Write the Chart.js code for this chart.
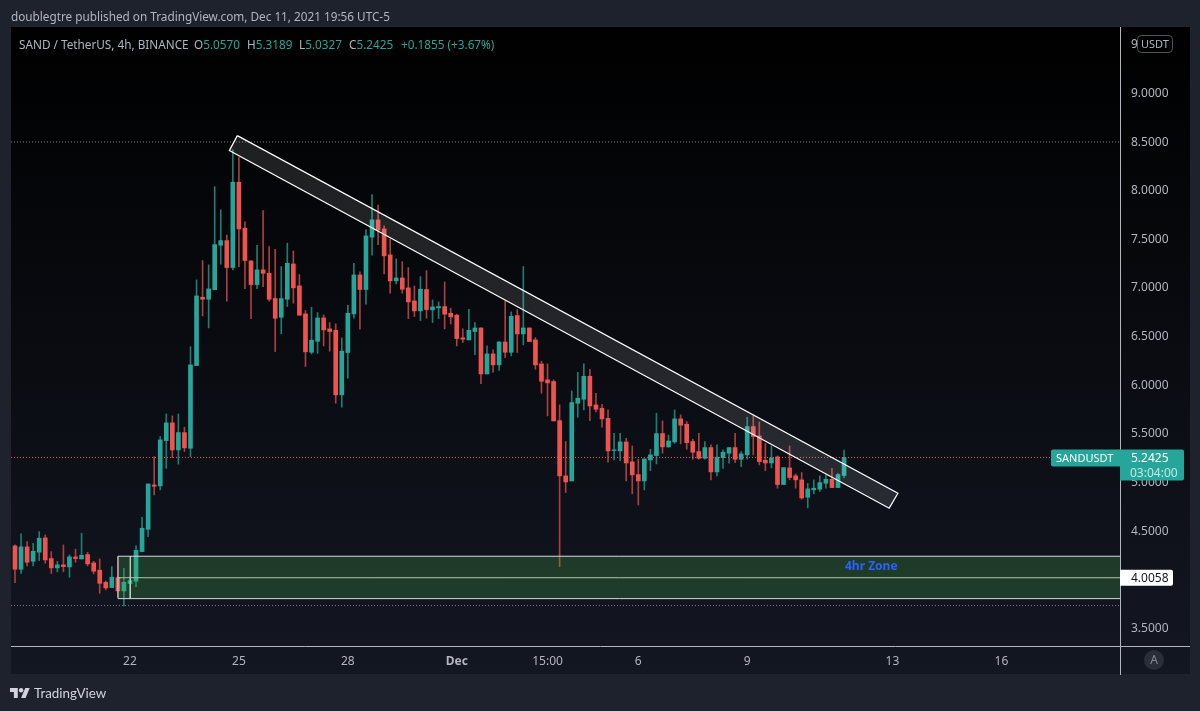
<!DOCTYPE html>
<html>
<head>
<meta charset="utf-8">
<title>SANDUSDT 4h</title>
<script src="https://cdn.jsdelivr.net/npm/chart.js@4/dist/chart.umd.min.js"></script>
<style>
  html, body { margin: 0; padding: 0; background: #1e222d; overflow: hidden; }
  #wrap { position: relative; width: 1200px; height: 711px; font-family: "Noto Sans", sans-serif; }
  #stockChart { position: absolute; left: 0; top: 0; }
  .txt { position: absolute; white-space: nowrap; font-size: 11.75px; line-height: 16px; color: #b2b5be; }
  .txt b { font-weight: normal; color: #26a69a; }
  #brand { position: absolute; left: 10px; top: 688px; }
  #brandName { position: absolute; left: 34px; top: 684px; font-family: "Lato", sans-serif; font-size: 13.4px; line-height: 18px; color: #d1d4dc; }
</style>
</head>
<body>
<div id="wrap">
  <canvas id="stockChart" width="1200" height="711"></canvas>
  <div class="txt" style="left:11px;top:8px;">doublegtre published on TradingView.com, Dec 11, 2021 19:56 UTC-5</div>
  <div class="txt" style="left:19px;top:36px;">SAND / TetherUS, 4h, BINANCE</div>
  <div class="txt" style="left:194px;top:36px;">O<b>5.0570</b></div>
  <div class="txt" style="left:247px;top:36px;">H<b>5.3189</b></div>
  <div class="txt" style="left:299px;top:36px;">L<b>5.0327</b></div>
  <div class="txt" style="left:349px;top:36px;">C<b>5.2425</b></div>
  <div class="txt" style="left:401px;top:36px;"><b>+0.1855 (+3.67%)</b></div>
  <svg id="brand" width="20" height="10" viewBox="0 4 36 18">
    <path fill="#d1d4dc" d="M14 22H7V11H0V4h14v18zM28 22h-8l7.5-18h8L28 22z"/>
    <circle fill="#d1d4dc" cx="20" cy="8" r="4"/>
  </svg>
  <div id="brandName">TradingView</div>
</div>
<script>
// 4h candles, oldest first
const opens = [
  4.333,4.093,4.323,4.175,4.268,4.415,4.203,4.107,4.138,4.117,
  4.220,4.199,4.244,4.158,4.083,3.959,3.905,4.007,3.870,3.946,
  3.970,4.275,4.504,4.960,4.950,5.416,5.598,5.320,5.498,5.337,
  6.187,6.890,6.869,6.968,7.424,7.472,7.195,8.072,7.599,7.263,
  7.020,7.171,7.136,6.876,6.684,6.869,7.232,7.006,6.718,6.324,
  6.437,6.677,6.564,6.550,5.886,6.321,6.718,7.119,6.969,7.507,
  7.685,7.592,7.325,7.058,7.088,6.986,6.852,6.749,6.969,6.760,
  6.780,6.794,6.725,6.705,6.472,6.451,6.537,6.574,6.101,6.307,
  6.194,6.430,6.324,6.701,6.513,6.574,6.451,6.204,6.040,6.023,
  5.621,5.053,5.001,5.800,5.841,6.077,5.783,5.748,5.645,5.313,
  5.310,5.402,5.197,5.066,5.001,5.217,5.262,5.488,5.351,5.402,
  5.639,5.584,5.406,5.303,5.234,5.344,5.094,5.241,5.286,5.344,
  5.224,5.269,5.560,5.464,5.214,5.186,5.248,4.964,5.135,5.053,
  5.012,4.833,4.909,4.916,4.977,5.018,4.933,5.0570
];
const highs = [
  4.343,4.456,4.378,4.360,4.480,4.446,4.275,4.175,4.343,4.240,
  4.299,4.463,4.268,4.175,4.199,3.973,4.120,4.223,4.103,4.018,
  4.333,4.628,4.970,5.251,5.457,5.690,5.670,5.690,5.553,6.382,
  7.068,7.267,7.222,8.027,7.788,7.530,8.404,8.329,7.664,7.263,
  7.424,7.781,7.411,7.383,7.205,7.445,7.366,7.123,6.753,6.787,
  6.732,6.708,6.629,6.616,6.472,6.807,7.239,7.150,7.582,7.945,
  7.836,7.623,7.486,7.284,7.256,7.195,7.006,7.102,7.164,6.862,
  6.842,7.047,6.777,6.715,6.564,6.766,6.629,6.574,6.389,6.348,
  6.430,6.852,6.739,6.760,7.205,6.574,6.475,6.232,6.204,6.040,
  5.783,5.406,5.926,6.118,6.204,6.149,5.903,5.789,5.731,5.491,
  5.491,5.440,5.361,5.224,5.227,5.327,5.697,5.618,5.471,5.731,
  5.680,5.611,5.430,5.491,5.406,5.371,5.371,5.320,5.344,5.491,
  5.303,5.656,5.670,5.608,5.388,5.361,5.258,5.138,5.361,5.073,
  5.087,4.977,5.012,5.053,5.063,5.131,5.080,5.3189
];
const lows = [
  3.956,4.049,4.127,4.127,4.182,4.155,4.049,4.066,4.066,4.011,
  4.165,4.199,4.127,4.045,3.846,3.881,3.905,3.805,3.716,3.795,
  3.915,4.275,4.429,4.857,4.909,5.131,5.241,5.173,5.303,5.251,
  6.187,6.698,6.574,6.968,7.229,6.849,7.171,7.205,6.979,6.670,
  6.979,6.999,6.849,6.331,6.513,6.794,6.828,6.705,6.177,6.307,
  6.314,6.389,6.335,5.800,5.759,6.057,6.674,6.561,6.818,7.322,
  7.431,7.130,6.931,7.027,6.931,6.670,6.691,6.650,6.674,6.629,
  6.670,6.564,6.616,6.389,6.424,6.451,6.300,6.002,6.101,6.119,
  6.136,6.269,6.287,6.321,6.400,6.434,6.149,5.903,5.670,5.618,
  4.120,4.881,5.001,5.656,5.731,5.621,5.711,5.553,5.193,5.217,
  5.210,5.001,4.868,4.754,4.909,5.107,5.176,5.286,5.347,5.388,
  5.382,5.327,5.224,5.224,5.224,5.012,5.053,5.131,5.183,5.190,
  5.149,5.224,5.269,5.166,5.107,5.135,4.926,4.964,5.012,4.926,
  4.813,4.724,4.868,4.892,4.926,4.933,4.933,5.0327
];
const closes = [
  4.093,4.323,4.165,4.278,4.412,4.189,4.107,4.138,4.120,4.220,
  4.203,4.237,4.148,4.073,3.949,3.901,4.011,3.870,3.959,3.977,
  4.288,4.515,4.970,4.946,5.423,5.598,5.320,5.498,5.341,6.194,
  6.903,6.869,6.975,7.431,7.472,7.195,8.072,7.592,7.267,7.020,
  7.171,7.136,6.869,6.674,6.876,7.239,6.986,6.705,6.328,6.448,
  6.677,6.554,6.537,5.886,6.335,6.725,7.119,6.969,7.520,7.685,
  7.582,7.315,7.058,7.088,6.972,6.842,6.749,6.972,6.763,6.790,
  6.794,6.715,6.688,6.465,6.458,6.550,6.574,6.101,6.307,6.194,
  6.430,6.324,6.694,6.513,6.574,6.434,6.194,6.026,6.009,5.618,
  5.053,4.991,5.807,5.851,6.077,5.772,5.738,5.639,5.310,5.320,
  5.402,5.186,5.063,5.001,5.227,5.269,5.488,5.351,5.412,5.639,
  5.574,5.395,5.296,5.234,5.344,5.094,5.245,5.296,5.344,5.224,
  5.279,5.560,5.457,5.200,5.186,5.238,4.964,5.138,5.036,5.012,
  4.826,4.919,4.926,4.984,5.018,4.933,5.066,5.2425
];

// axis ticks
const yTicks = [3.5, 4, 4.5, 5, 5.5, 6, 6.5, 7, 7.5, 8, 8.5, 9, 9.5];
const xTickBars = [19, 37, 55, 73, 88, 103, 121, 145, 163];
const xTickLabels = ['22', '25', '28', 'Dec', '15:00', '6', '9', '13', '16'];

// drawn levels and shapes, x in bar numbers, y in price
const lastPrice = 5.2425;
const zonePrice = 4.0058;
const topLevel = 8.486;
const bottomLevel = 3.72;
const xMin = -0.66, xMax = 182.6, yMin = 3.304, yMax = 9.668;
const channelBars = [36.74, 145.9, 144.46, 35.42, 36.74];
const channelPrices = [8.551, 4.875, 4.721, 8.397, 8.551];
const zoneLeft = 17.02, zoneRight = 184;
const zoneBars = [zoneLeft, zoneRight, zoneRight, zoneLeft, zoneLeft];
const zonePrices = [4.227, 4.227, 3.791, 3.791, 4.227];
const zoneInnerBars = [19.06, 19.06];
const zoneInnerPrices = [4.227, 3.791];
const zoneLabelBar = 141.5;
const zoneLabelPrice = 4.12;

const GREEN = '#26a69a', RED = '#ef5350';
const isUp = closes.map((c, i) => c >= opens[i]);
const FONT = '"Noto Sans", sans-serif';

function pts(xs, ys) {
  return xs.map((x, i) => ({ x: x, y: ys[i] }));
}
function level(price, color, dash, order) {
  return {
    type: 'line', data: pts([xMin, xMax], [price, price]), borderColor: color,
    borderWidth: 1, borderDash: dash, pointRadius: 0, order: order
  };
}

// background panel and axis lines go under everything
const panel = {
  id: 'panel',
  beforeDraw(chart) {
    const c = chart.ctx;
    const g = c.createLinearGradient(0, 27, 0, 674);
    g.addColorStop(0, '#000000');
    g.addColorStop(1, '#131722');
    c.save();
    c.fillStyle = g;
    c.fillRect(11, 27, 1179, 647);
    c.restore();
  },
  afterDraw(chart) {
    const c = chart.ctx;
    const y = chart.scales.y;
    c.save();
    c.strokeStyle = '#b2b5be';
    c.lineWidth = 1;
    c.beginPath();
    c.moveTo(1120.5, 27); c.lineTo(1120.5, 675);
    c.moveTo(11, 646.5); c.lineTo(1190, 646.5);
    c.stroke();

    // currency badge over the top tick
    c.fillStyle = '#000000';
    c.strokeStyle = '#50535e';
    c.beginPath();
    c.roundRect(1137.5, 35.5, 35, 17, 4);
    c.fill(); c.stroke();
    c.fillStyle = '#b2b5be';
    c.font = '11px ' + FONT;
    c.textBaseline = 'middle';
    c.fillText('USDT', 1141, 44.5);

    // last price tag
    const py = y.getPixelForValue(lastPrice);
    c.fillStyle = GREEN;
    c.beginPath();
    c.roundRect(1051, py - 8, 70, 17, [2, 0, 0, 2]);
    c.fill();
    c.beginPath();
    c.roundRect(1120, py - 8, 64, 31, [0, 2, 2, 0]);
    c.fill();
    c.fillStyle = '#ffffff';
    c.fillText('SANDUSDT', 1056, py + 1);
    c.font = '12px ' + FONT;
    c.fillText(lastPrice.toFixed(4), 1131, py + 1);
    c.fillStyle = '#c4e6e2';
    c.fillText('03:04:00', 1130, py + 16.5);

    // zone mid price tag
    const zy = y.getPixelForValue(zonePrice);
    c.fillStyle = '#ffffff';
    c.beginPath();
    c.roundRect(1120, zy - 8, 53, 16, [0, 2, 2, 0]);
    c.fill();
    c.fillStyle = '#131722';
    c.fillText(zonePrice.toFixed(4), 1131, zy + 1);

    // zone caption
    c.fillStyle = '#2962ff';
    c.font = 'bold 12px ' + FONT;
    c.textAlign = 'center';
    c.fillText('4hr Zone', chart.scales.x.getPixelForValue(zoneLabelBar), y.getPixelForValue(zoneLabelPrice));

    // auto scale button
    c.fillStyle = '#2a2e39';
    c.beginPath();
    c.arc(1154, 660, 10, 0, Math.PI * 2);
    c.fill();
    c.fillStyle = '#868993';
    c.font = '12px ' + FONT;
    c.fillText('A', 1154, 660.5);
    c.restore();
  }
};

new Chart(document.getElementById('stockChart').getContext('2d'), {
  data: {
    datasets: [
      // wicks, then bodies on top of them
      {
        type: 'bar',
        data: lows.map((l, i) => ({ x: i, y: [l, highs[i]] })),
        backgroundColor: isUp.map(u => u ? '#1f7d75' : '#a8413f'),
        barThickness: 1, grouped: false, order: 6
      },
      {
        type: 'bar',
        data: opens.map((o, i) => ({ x: i, y: [o, closes[i]] })),
        backgroundColor: isUp.map(u => u ? GREEN : RED),
        barThickness: 4, grouped: false, order: 5
      },
      level(topLevel, '#7b7e89', [1, 2], 4),
      level(bottomLevel, '#7b7e89', [1, 2], 4),
      level(lastPrice, RED, [1, 2], 4),
      {
        type: 'line', data: pts(zoneBars, zonePrices), borderColor: '#d6d8de', borderWidth: 1,
        backgroundColor: 'rgba(76, 175, 80, 0.25)', fill: 'shape', pointRadius: 0, tension: 0, order: 3
      },
      {
        type: 'line', data: pts(zoneInnerBars, zoneInnerPrices), borderColor: '#d6d8de',
        borderWidth: 1, pointRadius: 0, order: 3
      },
      {
        type: 'line', data: pts([zoneLeft, zoneRight], [zonePrice, zonePrice]), borderColor: '#c9d2cb',
        borderWidth: 1, pointRadius: 0, order: 3
      },
      {
        type: 'line', data: pts(channelBars, channelPrices), borderColor: '#ffffff', borderWidth: 1.2,
        backgroundColor: 'rgba(255, 255, 255, 0.11)', fill: 'shape', pointRadius: 0, tension: 0, order: 2
      }
    ]
  },
  options: {
    responsive: false,
    animation: false,
    layout: { padding: { left: 11, top: 27, right: 10, bottom: 37 } },
    plugins: {
      legend: { display: false },
      tooltip: { enabled: false }
    },
    scales: {
      x: {
        type: 'linear',
        min: xMin,
        max: xMax,
        offset: false,
        grid: { display: false, drawTicks: false },
        border: { display: false },
        afterFit: s => { s.height = 28; },
        afterBuildTicks: s => { s.ticks = xTickBars.map(v => ({ value: v })); },
        ticks: {
          color: '#b2b5be',
          autoSkip: false,
          maxRotation: 0,
          padding: 8,
          font: c => ({ family: FONT, size: 12, weight: xTickLabels[xTickBars.indexOf(c.tick && c.tick.value)] === 'Dec' ? 'bold' : 'normal' }),
          callback: v => xTickLabels[xTickBars.indexOf(v)]
        }
      },
      y: {
        type: 'linear',
        position: 'right',
        min: yMin,
        max: yMax,
        grid: { display: false, drawTicks: false },
        border: { display: false },
        afterFit: s => { s.width = 70; },
        afterBuildTicks: s => { s.ticks = yTicks.map(v => ({ value: v })); },
        ticks: {
          color: '#b2b5be',
          padding: 11,
          labelOffset: 1.5,
          autoSkip: false,
          font: { family: FONT, size: 12 },
          callback: v => v.toFixed(4)
        }
      }
    }
  },
  plugins: [panel]
});
</script>
</body>
</html>
